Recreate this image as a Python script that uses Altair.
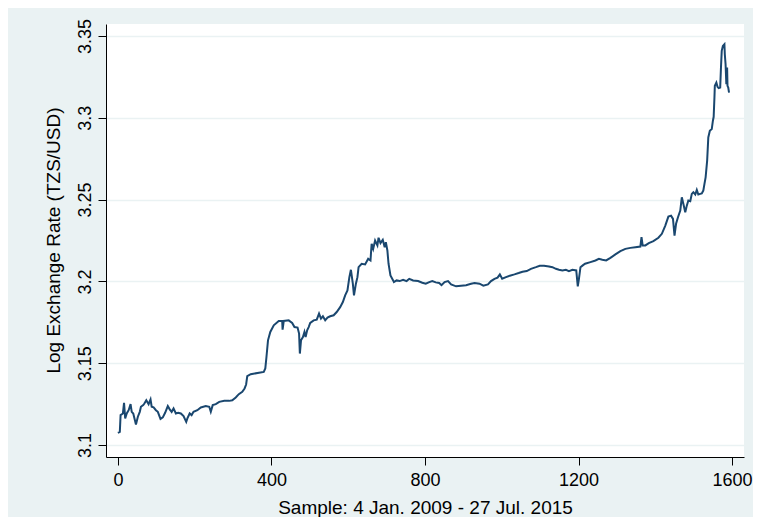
import altair as alt
import pandas as pd

# Sample index (trading day) and log exchange rate
sample = [
    0, 5, 7, 13, 16, 19, 23, 28, 33, 36,
    40, 47, 52, 57, 60, 66, 69, 74, 80, 85,
    88, 93, 99, 104, 111, 117, 123, 130, 135, 140,
    145, 151, 157, 164, 171, 178, 181, 187, 192, 197,
    207, 216, 229, 238, 242, 247, 255, 264, 277, 290,
    298, 307, 315, 324, 330, 334, 337, 346, 380, 384,
    387, 391, 397, 406, 419, 428, 429, 432, 445, 454,
    460, 468, 472, 474, 477, 482, 486, 489, 493, 497,
    501, 510, 518, 524, 529, 534, 540, 546, 553, 562,
    570, 579, 586, 592, 598, 603, 607, 612, 615, 620,
    624, 627, 635, 644, 652, 658, 661, 665, 670, 676,
    679, 684, 690, 695, 698, 702, 705, 710, 717, 719,
    726, 734, 743, 752, 759, 769, 782, 793, 802, 811,
    819, 828, 837, 843, 851, 860, 868, 881, 894, 907,
    920, 929, 942, 952, 964, 972, 981, 989, 995, 1001,
    1011, 1021, 1033, 1044, 1054, 1065, 1076, 1089, 1099, 1110,
    1123, 1132, 1141, 1149, 1158, 1167, 1175, 1184, 1194, 1198,
    1201, 1205, 1211, 1217, 1231, 1244, 1253, 1262, 1272, 1283,
    1296, 1309, 1322, 1335, 1348, 1361, 1364, 1367, 1374, 1383,
    1395, 1408, 1417, 1426, 1434, 1441, 1446, 1450, 1454, 1459,
    1465, 1469, 1473, 1478, 1482, 1486, 1491, 1495, 1499, 1504,
    1508, 1512, 1517, 1521, 1525, 1528, 1531, 1535, 1538, 1542,
    1547, 1550, 1552, 1554, 1555, 1559, 1562, 1565, 1569, 1571,
    1573, 1576, 1580, 1581, 1583, 1585, 1587, 1588, 1590, 1592,
]

log_rate = [
    3.1075, 3.1081, 3.1183, 3.1193, 3.1258, 3.1163, 3.1193, 3.1213, 3.1250, 3.1203,
    3.1193, 3.1126, 3.1173, 3.1203, 3.1234, 3.1244, 3.1254, 3.1274, 3.1250, 3.1279,
    3.1234, 3.1230, 3.1213, 3.1203, 3.1160, 3.1169, 3.1197, 3.1238, 3.1218, 3.1203,
    3.1224, 3.1193, 3.1197, 3.1193, 3.1177, 3.1142, 3.1163, 3.1193, 3.1183, 3.1203,
    3.1213, 3.1230, 3.1238, 3.1234, 3.1203, 3.1244, 3.1250, 3.1264, 3.1270, 3.1270,
    3.1274, 3.1291, 3.1311, 3.1325, 3.1346, 3.1370, 3.1421, 3.1433, 3.1447, 3.1468,
    3.1538, 3.1640, 3.1691, 3.1732, 3.1758, 3.1758, 3.1705, 3.1758, 3.1762, 3.1746,
    3.1721, 3.1718, 3.1681, 3.1559, 3.1640, 3.1660, 3.1691, 3.1660, 3.1701, 3.1721,
    3.1746, 3.1762, 3.1766, 3.1803, 3.1773, 3.1787, 3.1762, 3.1779, 3.1787, 3.1793,
    3.1813, 3.1843, 3.1874, 3.1915, 3.1945, 3.2026, 3.2071, 3.1986, 3.1915, 3.1986,
    3.2026, 3.2087, 3.2108, 3.2104, 3.2138, 3.2128, 3.2230, 3.2199, 3.2250, 3.2220,
    3.2267, 3.2234, 3.2254, 3.2209, 3.2240, 3.2189, 3.2108, 3.2037, 3.2006, 3.1996,
    3.2006, 3.2002, 3.2010, 3.2002, 3.2016, 3.2006, 3.2002, 3.1992, 3.1986, 3.1996,
    3.2002, 3.1994, 3.1990, 3.1977, 3.1996, 3.2002, 3.1982, 3.1970, 3.1974, 3.1977,
    3.1986, 3.1990, 3.1986, 3.1974, 3.1982, 3.2002, 3.2016, 3.2023, 3.2043, 3.2016,
    3.2026, 3.2035, 3.2043, 3.2051, 3.2059, 3.2063, 3.2077, 3.2087, 3.2096, 3.2096,
    3.2091, 3.2087, 3.2077, 3.2071, 3.2067, 3.2071, 3.2063, 3.2071, 3.2067, 3.1970,
    3.2016, 3.2087, 3.2098, 3.2108, 3.2118, 3.2128, 3.2138, 3.2132, 3.2128, 3.2144,
    3.2165, 3.2185, 3.2199, 3.2205, 3.2209, 3.2213, 3.2270, 3.2220, 3.2220, 3.2234,
    3.2246, 3.2267, 3.2291, 3.2341, 3.2396, 3.2402, 3.2382, 3.2280, 3.2352, 3.2392,
    3.2433, 3.2514, 3.2474, 3.2423, 3.2463, 3.2494, 3.2490, 3.2535, 3.2545, 3.2531,
    3.2559, 3.2531, 3.2535, 3.2538, 3.2555, 3.2596, 3.2636, 3.2738, 3.2880, 3.2921,
    3.2931, 3.2982, 3.3006, 3.3124, 3.3195, 3.3215, 3.3189, 3.3181, 3.3185, 3.3307,
    3.3409, 3.3439, 3.3449, 3.3388, 3.3327, 3.3205, 3.3307, 3.3195, 3.3185, 3.3154,
]

x_ticks = [0, 400, 800, 1200, 1600]
y_ticks = [3.1, 3.15, 3.2, 3.25, 3.3, 3.35]

x_title = "Sample: 4 Jan. 2009 - 27 Jul. 2015"
y_title = "Log Exchange Rate (TZS/USD)"

df = pd.DataFrame({"sample": sample, "rate": log_rate})

FONT = "Liberation Sans"

chart = (
    alt.Chart(df)
    .mark_line(color="#1A476F", strokeWidth=2)
    .encode(
        x=alt.X(
            "sample:Q",
            scale=alt.Scale(domain=[-31, 1631], nice=False, zero=False),
            axis=alt.Axis(
                values=x_ticks,
                format="d",
                title=x_title,
                grid=False,
                domainColor="#000000",
                domainWidth=1,
                tickColor="#000000",
                tickSize=8,
                labelFontSize=18,
                labelPadding=6,
                labelColor="#000000",
                labelFont=FONT,
                titleFont=FONT,
                titleFontSize=19,
                titleFontWeight="normal",
                titleColor="#000000",
                titleBaseline="alphabetic",
                titleY=56,
            ),
        ),
        y=alt.Y(
            "rate:Q",
            scale=alt.Scale(domain=[3.0927, 3.3573], nice=False, zero=False),
            axis=alt.Axis(
                values=y_ticks,
                format=".2~f",
                title=y_title,
                grid=True,
                gridColor="#EAF2F3",
                gridWidth=1.5,
                domainColor="#000000",
                domainWidth=1,
                tickColor="#000000",
                tickSize=8,
                labelAngle=270,
                labelAlign="center",
                labelBaseline="alphabetic",
                labelPadding=8,
                labelFontSize=18,
                labelColor="#000000",
                labelFont=FONT,
                titleFont=FONT,
                titleFontSize=19,
                titleFontWeight="normal",
                titleColor="#000000",
                titleAngle=270,
                titleBaseline="alphabetic",
                titleX=-47,
                titleY=216,
            ),
        ),
    )
    .properties(
        width=638,
        height=433,
        background="#EAF2F3",
        padding={"left": 98, "top": 16, "right": 9, "bottom": 60},
        autosize=alt.AutoSizeParams(type="none"),
    )
    .configure_view(fill="white", strokeWidth=0)
)

chart.save("out.html", embed_options={"renderer": "svg", "actions": False})
